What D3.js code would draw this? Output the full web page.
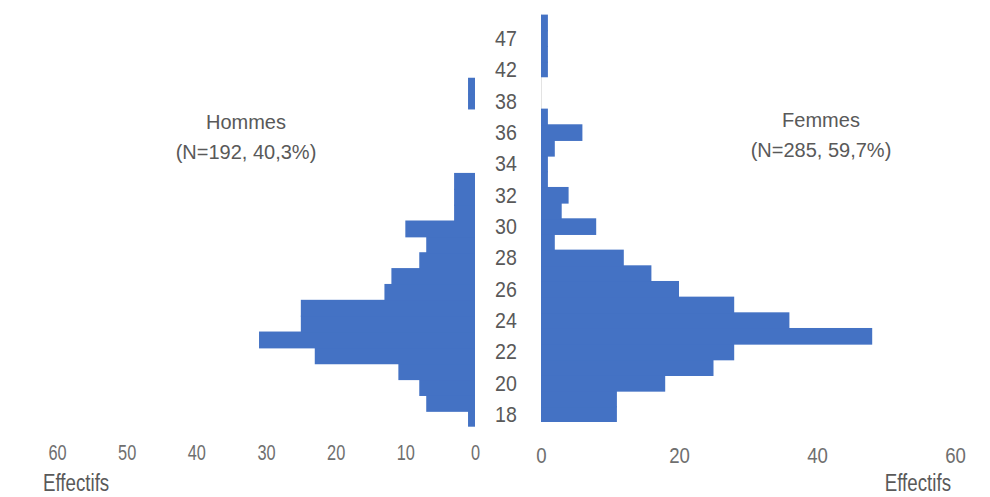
<!DOCTYPE html>
<html>
<head>
<meta charset="utf-8">
<script src="https://cdn.jsdelivr.net/npm/d3@7"></script>
<style>
  html, body { margin: 0; padding: 0; background: #fff; }
  svg { display: block; font-family: "Liberation Sans", Arial, sans-serif; }
</style>
</head>
<body>
<svg id="chart" width="990" height="497"></svg>
<script>
// ---- Data ----
const ages = ["18","19","20","21","22","23","24","25","26","27","28","29","30",
              "31","32","33","34","35","36","37","38","41","42","44","47","48"];
const hommes = [1,7,8,11,23,31,25,25,13,12,8,7,10,3,3,3,0,0,0,0,1,1,0,0,0,0];
const femmes = [11,11,18,25,28,48,36,28,20,16,12,2,8,3,4,1,1,2,6,1,0,0,1,1,1,1];
const leftTicks = [0,10,20,30,40,50,60];
const rightTicks = [0,20,40,60];
const titleHommes = ["Hommes", "(N=192, 40,3%)"];
const titleFemmes = ["Femmes", "(N=285, 59,7%)"];
const axisTitle = "Effectifs";

const BLUE = "#4472C4";
const TXT = "#595959";
const TICK = "#6f6f6f";

const svg = d3.select("#chart");

// Scales
const xL = d3.scaleLinear().domain([0, 60]).range([475, 57]);
const xR = d3.scaleLinear().domain([0, 60]).range([541, 955]);
const yL = d3.scaleBand().domain(ages).range([426.7, 14.3]).padding(0);
const yR = d3.scaleBand().domain(ages).range([422, 14.6]).padding(0);

// light axis line on the right panel
svg.append("line")
  .attr("x1", xR(0) + 0.5).attr("x2", xR(0) + 0.5)
  .attr("y1", yR.range()[1]).attr("y2", yR.range()[0])
  .attr("stroke", "#e3e3e3").attr("stroke-width", 1);

// Bars - hommes (left)
svg.append("g").selectAll("rect")
  .data(ages.map((a, i) => ({a, v: hommes[i], i})).filter(d => d.v > 0))
  .join("rect")
  .attr("x", d => xL(d.v))
  .attr("width", d => xL(0) - xL(d.v))
  .attr("y", d => yL(d.a))
  .attr("height", d => yL.bandwidth() + (d.i > 0 && hommes[d.i - 1] > 0 ? 1 : 0))
  .attr("fill", BLUE);

// Bars - femmes (right)
svg.append("g").selectAll("rect")
  .data(ages.map((a, i) => ({a, v: femmes[i], i})).filter(d => d.v > 0))
  .join("rect")
  .attr("x", xR(0))
  .attr("width", d => xR(d.v) - xR(0))
  .attr("y", d => yR(d.a))
  .attr("height", d => yR.bandwidth() + (d.i > 0 && femmes[d.i - 1] > 0 ? 1 : 0))
  .attr("fill", BLUE);

// Category (age) labels in the middle
const yAxis = d3.axisRight(yR)
  .tickValues(ages.filter((a, i) => i % 2 === 0))
  .tickSize(0).tickPadding(0);
const gy = svg.append("g").attr("transform", "translate(506,0)").call(yAxis);
gy.select(".domain").remove();
gy.selectAll("text")
  .attr("text-anchor", "middle")
  .attr("x", 0)
  .attr("dy", "0.36em")
  .attr("transform", "scale(0.89,1)")
  .attr("fill", TXT)
  .style("font-size", "22px")
  .style("font-family", "Liberation Sans, Arial, sans-serif");

// Bottom axes
const gxL = svg.append("g").attr("transform", "translate(0,444.5)")
  .call(d3.axisBottom(xL).tickValues(leftTicks).tickSize(0).tickPadding(0).tickFormat(d3.format("d")));
gxL.select(".domain").remove();
gxL.selectAll("text")
  .attr("dy", "0.71em")
  .attr("transform", "scale(0.76,1)")
  .attr("fill", TICK)
  .style("font-size", "21.5px")
  .style("font-family", "Liberation Sans, Arial, sans-serif");

const gxR = svg.append("g").attr("transform", "translate(0,447)")
  .call(d3.axisBottom(xR).tickValues(rightTicks).tickSize(0).tickPadding(0).tickFormat(d3.format("d")));
gxR.select(".domain").remove();
gxR.selectAll("text")
  .attr("dy", "0.71em")
  .attr("transform", "scale(0.81,1)")
  .attr("fill", TICK)
  .style("font-size", "23px")
  .style("font-family", "Liberation Sans, Arial, sans-serif");

// Axis titles
function axTitle(x, y, anchor) {
  svg.append("text")
    .attr("transform", `translate(${x},${y}) scale(0.78,1)`)
    .attr("text-anchor", anchor).attr("fill", TXT)
    .style("font-size", "24px").text(axisTitle);
}
axTitle(43, 490.5, "start");
axTitle(951, 490.5, "end");

// Series titles
function title(lines, cx, y0) {
  const t = svg.append("text").attr("text-anchor", "middle").attr("fill", TXT)
    .style("font-size", "20px");
  lines.forEach((l, i) => t.append("tspan").attr("x", cx).attr("y", y0 + i * 30).text(l));
}
title(titleHommes, 246, 129);
title(titleFemmes, 821, 126.5);
</script>
</body>
</html>
